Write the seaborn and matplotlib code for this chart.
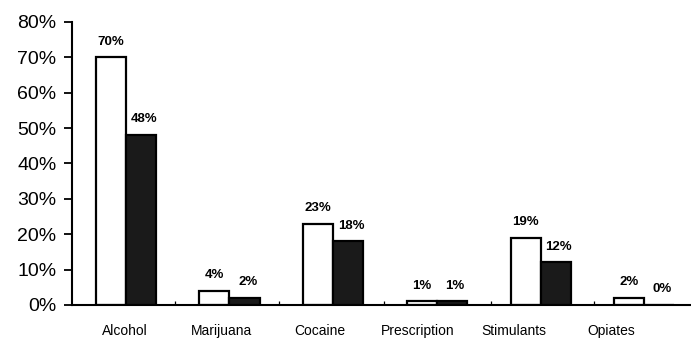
import numpy as np
import pandas as pd
import matplotlib
matplotlib.use("Agg")
import matplotlib.pyplot as plt
import seaborn as sns

categories = ["Alcohol", "Marijuana", "Cocaine", "Prescription", "Stimulants", "Opiates"]
series_names = ["Group A", "Group B"]
values_white = [70, 4, 23, 1, 19, 2]
values_black = [48, 2, 18, 1, 12, 0]
y_ticks = [0, 10, 20, 30, 40, 50, 60, 70, 80]

df = pd.DataFrame({
    "category": categories * 2,
    "series": [series_names[0]] * len(categories) + [series_names[1]] * len(categories),
    "value": values_white + values_black,
})

sns.set_style("white")
plt.rcParams["font.family"] = ["Liberation Sans", "DejaVu Sans"]

fig = plt.figure(figsize=(6.91, 3.43), dpi=100)
ax = fig.add_axes([0.104, 0.111, 0.896, 0.825])

sns.barplot(data=df, x="category", y="value", hue="series", order=categories,
            hue_order=series_names, palette=["white", "#1a1a1a"], width=0.58,
            edgecolor="black", linewidth=1.6, saturation=1, legend=False, ax=ax)

# value labels above each bar
for i, cont in enumerate(ax.containers):
    for bar, v in zip(cont, cont.datavalues):
        x = bar.get_x() + bar.get_width() / 2 + (0.03 if i == 1 else 0)
        ax.annotate(f"{v:.0f}%", (x, bar.get_height()), xytext=(0, 7),
                    textcoords="offset points", ha="center", va="bottom",
                    fontsize=9.5, fontweight="semibold", color="black")

ax.set_ylim(0, 80)
ax.set_xlim(-0.52, 5.45)
ax.set_yticks(y_ticks)
ax.set_yticklabels([f"{t}%" for t in y_ticks], fontsize=14)
ax.tick_params(axis="y", left=True, direction="out", length=6, width=1.3,
               color="black", labelcolor="black", pad=5)

# category labels sit a bit left of the bar groups, as in the scan
label_pos = [-0.01, 0.92, 1.87, 2.81, 3.74, 4.68]
ax.set_xticks(label_pos)
ax.set_xticklabels(categories, fontsize=10)
ax.tick_params(axis="x", which="major", bottom=False, length=0, pad=14,
               labelcolor="black")
ax.set_xticks([0.47, 1.48, 2.49, 3.52, 4.51], minor=True)
ax.tick_params(axis="x", which="minor", bottom=True, direction="in", length=3,
               width=0.9, color="black")

ax.set_xlabel("")
ax.set_ylabel("")
sns.despine(ax=ax)
for s in ["left", "bottom"]:
    ax.spines[s].set_color("black")
    ax.spines[s].set_linewidth(1.5)

fig.savefig("out.png", dpi=100)
